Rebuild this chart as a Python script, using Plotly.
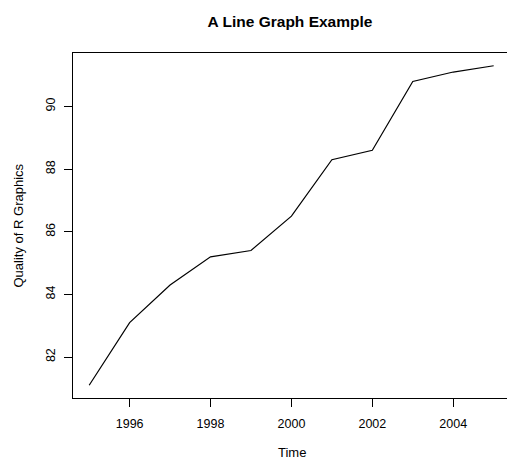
import plotly.graph_objects as go

# Yearly series: quality score of R graphics
years = [1995, 1996, 1997, 1998, 1999, 2000, 2001, 2002, 2003, 2004, 2005]
quality = [81.1, 83.1, 84.3, 85.2, 85.4, 86.5, 88.3, 88.6, 90.8, 91.1, 91.3]

x_ticks = [1996, 1998, 2000, 2002, 2004]
y_ticks = [82, 84, 86, 88, 90]

FONT = "Liberation Sans, Arial, Helvetica, sans-serif"

# R-style 4% padding around the data range
ypad = (max(quality) - min(quality)) * 0.04
xpad = (max(years) - min(years)) * 0.04
y_range = [min(quality) - ypad, max(quality) + ypad]
x_lo = min(years) - xpad
# plotting region is 434 px wide at ~40.45 px per year; right side runs off the page
x_range = [x_lo, x_lo + 434 / 40.45]

fig = go.Figure(
    go.Scatter(
        x=years,
        y=quality,
        mode="lines",
        line=dict(color="black", width=1.2),
        hoverinfo="skip",
    )
)

fig.update_layout(
    width=507,
    height=459,
    margin=dict(l=73, r=0, t=53, b=61),
    paper_bgcolor="white",
    plot_bgcolor="white",
    showlegend=False,
    font=dict(family=FONT, size=13, color="black"),
    title=dict(
        text="<b>A Line Graph Example</b>",
        font=dict(family=FONT, size=15.5, color="black"),
        x=0.5,
        xref="paper",
        xanchor="center",
        y=1 - 21.5 / 459,
        yref="container",
        yanchor="middle",
    ),
)

fig.update_xaxes(
    range=x_range,
    tickmode="array",
    tickvals=x_ticks,
    ticktext=[str(v) for v in x_ticks],
    ticks="outside",
    ticklen=8,
    tickwidth=1,
    tickcolor="black",
    ticklabelstandoff=6,
    showline=True,
    linecolor="black",
    linewidth=1,
    mirror=True,
    showgrid=False,
    zeroline=False,
    tickfont=dict(family=FONT, size=12.5, color="black"),
)

fig.update_yaxes(
    range=y_range,
    tickmode="array",
    tickvals=y_ticks,
    ticktext=[str(v) for v in y_ticks],
    ticks="outside",
    ticklen=8,
    tickwidth=1,
    tickcolor="black",
    tickangle=-90,
    ticklabelstandoff=4,
    showline=True,
    linecolor="black",
    linewidth=1,
    showgrid=False,
    zeroline=False,
    tickfont=dict(family=FONT, size=12.5, color="black"),
)

# axis titles
fig.add_annotation(
    text="Time",
    xref="paper", yref="paper",
    x=0.5, y=0,
    xshift=1.5, yshift=-54.5,
    xanchor="center", yanchor="middle",
    showarrow=False,
    font=dict(family=FONT, size=13, color="black"),
)
fig.add_annotation(
    text="Quality of R Graphics",
    xref="paper", yref="paper",
    x=0, y=0.5,
    xshift=-55, yshift=0,
    xanchor="center", yanchor="middle",
    textangle=-90,
    showarrow=False,
    font=dict(family=FONT, size=13, color="black"),
)

fig.write_html("out.html")
